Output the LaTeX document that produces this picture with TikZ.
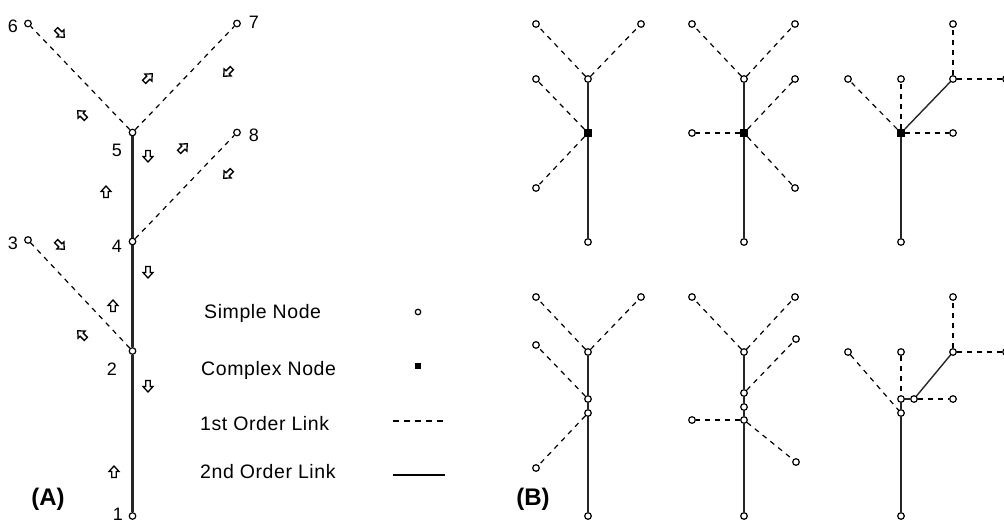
\documentclass[tikz,border=0pt]{standalone}
\usepackage{fontspec}
\setmainfont{Liberation Sans}
\begin{document}
\begin{tikzpicture}[x=1pt,y=-1pt,
  snode/.style={circle,draw=black,fill=white,line width=1.2pt,inner sep=0pt,minimum size=6.6pt},
  cnode/.style={rectangle,fill=black,inner sep=0pt,minimum size=7.5pt},
  dl/.style={draw=black,line width=1.2pt,dash pattern=on 5pt off 5pt},
  sl/.style={draw=black!85,line width=2.1pt},
  tl/.style={draw=black!85,line width=1.4pt},
  lbl/.style={font=\fontsize{18}{20}\selectfont,inner sep=0pt},
  legtxt/.style={font=\fontsize{19.5}{22}\selectfont\addfontfeature{LetterSpace=3},anchor=west,inner sep=0pt},
  big/.style={font=\fontsize{24}{26}\selectfont\bfseries,inner sep=0pt},
  harrow/.pic={\draw[black,line width=1.3pt,fill=white,line join=miter]
     (6,0) -- (0.5,5) -- (0.5,2.2) -- (-5.5,2.2) -- (-5.5,-2.2) -- (0.5,-2.2) -- (0.5,-5) -- cycle;}
]
\useasboundingbox (0,0) rectangle (1004,522);

% ---------------- Part (A) ----------------
\node[snode] (a1) at (132.5,516) {};
\node[snode] (a2) at (132.5,351) {};
\node[snode] (a3) at (28,240) {};
\node[snode] (a4) at (132.5,241.5) {};
\node[snode] (a5) at (132.5,132.5) {};
\node[snode] (a6) at (28,23.5) {};
\node[snode] (a7) at (237,23.5) {};
\node[snode] (a8) at (237,132.5) {};

\draw[sl] (a1) -- (a2);
\draw[sl] (a2) -- (a4);
\draw[sl] (a4) -- (a5);
\draw[dl] (a2) -- (a3);
\draw[dl] (a4) -- (a8);
\draw[dl] (a5) -- (a6);
\draw[dl] (a5) -- (a7);

\node[lbl] (l1) at (118,514) {1};
\node[lbl] (l2) at (112,369) {2};
\node[lbl] (l3) at (13,243) {3};
\node[lbl] (l4) at (117,246) {4};
\node[lbl] (l5) at (117,150) {5};
\node[lbl] (l6) at (13,26) {6};
\node[lbl] (l7) at (254,22) {7};
\node[lbl] (l8) at (254,135) {8};

% hollow arrows
\pic[rotate=-45] at (60,33) {harrow};
\pic[rotate=135] at (82,115) {harrow};
\pic[rotate=45] at (148,78) {harrow};
\pic[rotate=-135] at (228,72) {harrow};
\pic[rotate=-90] at (148,156) {harrow};
\pic[rotate=90] at (106,192) {harrow};
\pic[rotate=45] at (183,148) {harrow};
\pic[rotate=-135] at (228,174) {harrow};
\pic[rotate=-45] at (60,245) {harrow};
\pic[rotate=-90] at (148,272) {harrow};
\pic[rotate=90] at (113,306) {harrow};
\pic[rotate=135] at (82,335) {harrow};
\pic[rotate=-90] at (148,386) {harrow};
\pic[rotate=90] at (114,472) {harrow};

\node[big] (labA) at (48,499) {(A)};

% legend
\node[legtxt] (t1) at (204,313) {Simple Node};
\node[legtxt] (t2) at (201,370) {Complex Node};
\node[legtxt] (t3) at (200,424) {1st Order Link};
\node[legtxt] (t4) at (200,472) {2nd Order Link};
\node[snode,minimum size=5.5pt] (k1) at (418,312) {};
\node[cnode,minimum size=6pt] (k2) at (418,366) {};
\coordinate (k3a) at (393,421);
\coordinate (k3b) at (445,421);
\coordinate (k4a) at (393,475);
\coordinate (k4b) at (445,475);
\draw[black,line width=1.1pt,dash pattern=on 6pt off 5pt] (k3a) -- (k3b);
\draw[black,line width=1.5pt] (k4a) -- (k4b);

% ---------------- Part (B) top row ----------------
% panel 1
\node[snode] (p1t) at (588,79) {};
\node[snode] (p1ul) at (536,24) {};
\node[snode] (p1ur) at (641,24) {};
\node[cnode] (p1c) at (588,133) {};
\node[snode] (p1ml) at (536,79) {};
\node[snode] (p1ll) at (536,188) {};
\node[snode] (p1b) at (588,242) {};
\draw[dl] (p1t) -- (p1ul);
\draw[dl] (p1t) -- (p1ur);
\draw[sl] (p1t) -- (p1c);
\draw[dl] (p1c) -- (p1ml);
\draw[dl] (p1c) -- (p1ll);
\draw[sl] (p1c) -- (p1b);
% panel 2
\node[snode] (p2t) at (744,79) {};
\node[snode] (p2ul) at (692,24) {};
\node[snode] (p2ur) at (795,24) {};
\node[cnode] (p2c) at (744,133) {};
\node[snode] (p2mr) at (795,79) {};
\node[snode] (p2l) at (692,133) {};
\node[snode] (p2lr) at (795,188) {};
\node[snode] (p2b) at (744,242) {};
\draw[dl] (p2t) -- (p2ul);
\draw[dl] (p2t) -- (p2ur);
\draw[sl] (p2t) -- (p2c);
\draw[dl] (p2c) -- (p2mr);
\draw[dl] (p2c) -- (p2l);
\draw[dl] (p2c) -- (p2lr);
\draw[sl] (p2c) -- (p2b);
% panel 3
\node[cnode] (p3c) at (901,133) {};
\node[snode] (p3l) at (848,79) {};
\node[snode] (p3t) at (901,79) {};
\node[snode] (p3r) at (953,79) {};
\node[snode] (p3rt) at (953,24) {};
\node[snode] (p3rr) at (1006,79) {};
\node[snode] (p3h) at (953,133) {};
\node[snode] (p3b) at (901,242) {};
\draw[dl] (p3c) -- (p3l);
\draw[dl] (p3c) -- (p3t);
\draw[tl] (p3c) -- (p3r);
\draw[dl] (p3c) -- (p3h);
\draw[sl] (p3c) -- (p3b);
\draw[dl] (p3r) -- (p3rt);
\draw[dl] (p3r) -- (p3rr);

% ---------------- Part (B) bottom row ----------------
% panel 1
\node[snode] (q1t) at (588,352) {};
\node[snode] (q1ul) at (536,297) {};
\node[snode] (q1ur) at (641,297) {};
\node[snode] (q1a) at (588,399) {};
\node[snode] (q1b) at (588,413) {};
\node[snode] (q1ml) at (536,345) {};
\node[snode] (q1ll) at (536,468) {};
\node[snode] (q1bot) at (588,516) {};
\draw[dl] (q1t) -- (q1ul);
\draw[dl] (q1t) -- (q1ur);
\draw[sl] (q1t) -- (q1a);
\draw[sl] (q1a) -- (q1b);
\draw[dl] (q1a) -- (q1ml);
\draw[dl] (q1b) -- (q1ll);
\draw[sl] (q1b) -- (q1bot);
% panel 2
\node[snode] (q2t) at (744,352) {};
\node[snode] (q2ul) at (692,297) {};
\node[snode] (q2ur) at (795,297) {};
\node[snode] (q2a) at (744,393) {};
\node[snode] (q2b) at (744,407) {};
\node[snode] (q2c) at (744,420) {};
\node[snode] (q2mr) at (796,339) {};
\node[snode] (q2l) at (692,420) {};
\node[snode] (q2lr) at (796,462) {};
\node[snode] (q2bot) at (744,516) {};
\draw[dl] (q2t) -- (q2ul);
\draw[dl] (q2t) -- (q2ur);
\draw[sl] (q2t) -- (q2a);
\draw[sl] (q2a) -- (q2b);
\draw[sl] (q2b) -- (q2c);
\draw[dl] (q2a) -- (q2mr);
\draw[dl] (q2c) -- (q2l);
\draw[dl] (q2c) -- (q2lr);
\draw[sl] (q2c) -- (q2bot);
% panel 3
\node[snode] (q3l) at (848,352) {};
\node[snode] (q3t) at (901,352) {};
\node[snode] (q3r) at (953,352) {};
\node[snode] (q3rt) at (953,297) {};
\node[snode] (q3rr) at (1006,352) {};
\node[snode] (q3a) at (901,399) {};
\node[snode] (q3b) at (914,399) {};
\node[snode] (q3h) at (953,399) {};
\node[snode] (q3d) at (901,413) {};
\node[snode] (q3bot) at (901,516) {};
\draw[dl] (q3l) -- (q3d);
\draw[dl] (q3t) -- (q3a);
\draw[tl] (q3a) -- (q3b);
\draw[tl] (q3b) -- (q3r);
\draw[dl] (q3b) -- (q3h);
\draw[dl] (q3r) -- (q3rt);
\draw[dl] (q3r) -- (q3rr);
\draw[sl] (q3a) -- (q3d);
\draw[sl] (q3d) -- (q3bot);

\node[big] (labB) at (533,499) {(B)};
\end{tikzpicture}
\end{document}
